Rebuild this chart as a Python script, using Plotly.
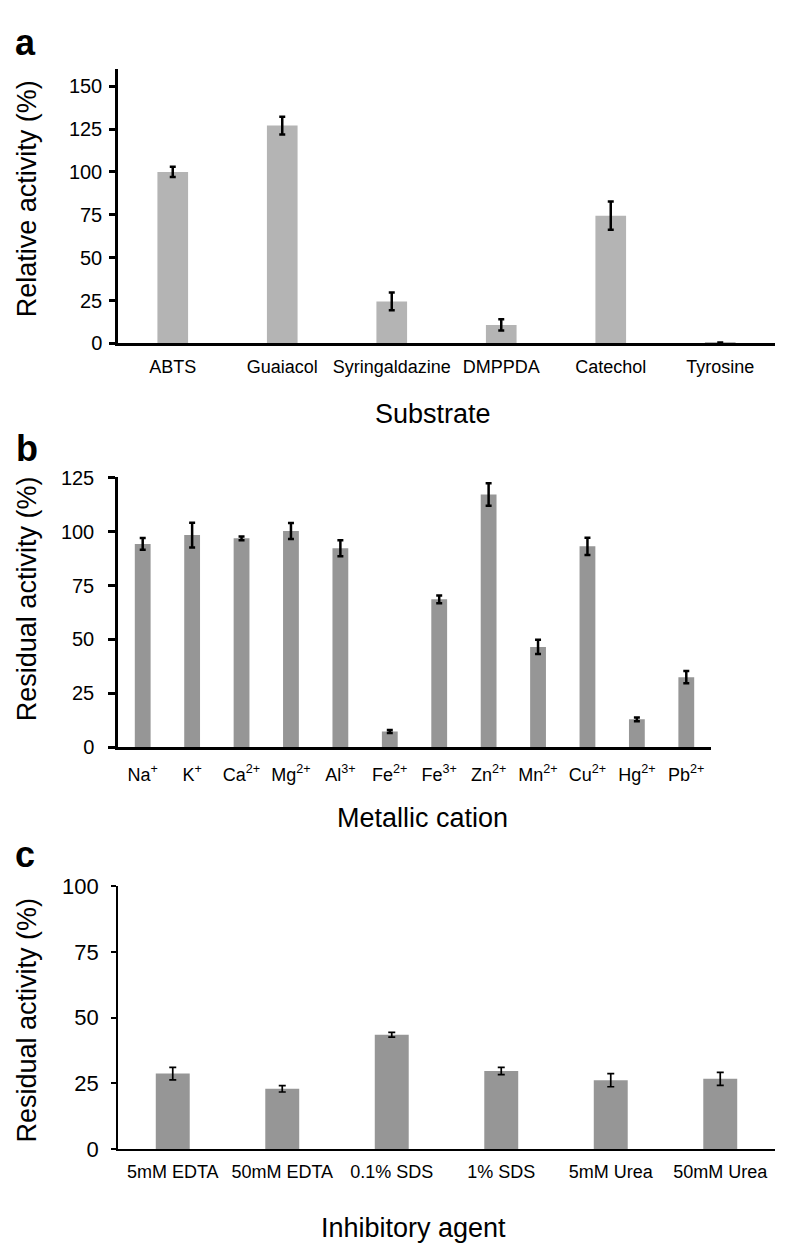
import plotly.graph_objects as go

W, H = 786, 1251

# ---------------- data ----------------
substrates = ["ABTS", "Guaiacol", "Syringaldazine", "DMPPDA", "Catechol", "Tyrosine"]
substrate_activity = [100.0, 127.0, 24.5, 10.8, 74.5, 0.3]
substrate_err = [3.0, 5.2, 5.2, 3.3, 8.2, 0.3]

cations = ["Na<sup>+</sup>", "K<sup>+</sup>", "Ca<sup>2+</sup>", "Mg<sup>2+</sup>",
           "Al<sup>3+</sup>", "Fe<sup>2+</sup>", "Fe<sup>3+</sup>", "Zn<sup>2+</sup>",
           "Mn<sup>2+</sup>", "Cu<sup>2+</sup>", "Hg<sup>2+</sup>", "Pb<sup>2+</sup>"]
cation_activity = [94.3, 98.4, 96.9, 100.3, 92.3, 7.3, 68.6, 117.2, 46.5, 93.2, 12.9, 32.5]
cation_err = [2.7, 5.7, 0.9, 3.7, 3.7, 0.7, 1.8, 5.2, 3.3, 4.0, 0.9, 2.8]

inhibitors = ["5mM EDTA", "50mM EDTA", "0.1% SDS", "1% SDS", "5mM Urea", "50mM Urea"]
inhibitor_activity = [28.7, 22.9, 43.5, 29.7, 26.2, 26.7]
inhibitor_err = [2.4, 1.2, 0.9, 1.4, 2.5, 2.5]

ticks_a = [0, 25, 50, 75, 100, 125, 150]
ticks_b = [0, 25, 50, 75, 100, 125]
ticks_c = [0, 25, 50, 75, 100]

# ---------------- helpers ----------------
FONT = "Liberation Sans, Arial, Helvetica, sans-serif"


def px_x(p):
    return p / W


def px_y(p):
    return 1 - p / H


fig = go.Figure()

fig.add_trace(go.Bar(
    x=substrates, y=substrate_activity, width=0.28,
    marker=dict(color="#b4b4b4", line=dict(width=0)),
    error_y=dict(type="data", array=substrate_err, visible=True,
                 color="black", thickness=2.5, width=3),
    xaxis="x", yaxis="y", showlegend=False))

fig.add_trace(go.Bar(
    x=cations, y=cation_activity, width=0.32,
    marker=dict(color="#969696", line=dict(width=0)),
    error_y=dict(type="data", array=cation_err, visible=True,
                 color="black", thickness=2.5, width=3),
    xaxis="x2", yaxis="y2", showlegend=False))

fig.add_trace(go.Bar(
    x=inhibitors, y=inhibitor_activity, width=0.31,
    marker=dict(color="#969696", line=dict(width=0)),
    error_y=dict(type="data", array=inhibitor_err, visible=True,
                 color="black", thickness=1.7, width=3.5),
    xaxis="x3", yaxis="y3", showlegend=False))


def xaxis_cfg(n, left, right, anchor, lw, fs, standoff):
    return dict(domain=[px_x(left), px_x(right)], anchor=anchor,
                type="category", range=[-0.5, n - 0.5],
                showline=True, linecolor="black", linewidth=lw,
                ticks="", showgrid=False, zeroline=False,
                tickfont=dict(family=FONT, size=fs, color="black"),
                ticklabelstandoff=standoff, fixedrange=True)


def yaxis_cfg(top_px, bottom_px, rng, tickvals, anchor, lw, fs, tl, standoff):
    return dict(domain=[px_y(bottom_px), px_y(top_px)], anchor=anchor,
                range=rng, tickvals=tickvals,
                showline=True, linecolor="black", linewidth=lw,
                ticks="outside", ticklen=tl, tickwidth=lw, tickcolor="black",
                showgrid=False, zeroline=False,
                tickfont=dict(family=FONT, size=fs, color="black"),
                ticklabelstandoff=standoff, fixedrange=True)


fig.update_layout(
    width=W, height=H,
    margin=dict(l=0, r=0, t=0, b=0),
    paper_bgcolor="white", plot_bgcolor="white",
    xaxis=xaxis_cfg(len(substrates), 110, 767, "y", 2.5, 18, 5),
    yaxis=yaxis_cfg(50, 330, [0, 160], ticks_a, "x", 2.5, 20, 6, 3),
    xaxis2=xaxis_cfg(len(cations), 110, 703, "y2", 2.5, 18, 9),
    yaxis2=yaxis_cfg(466, 742, [0, 125.5], ticks_b, "x2", 2.5, 20, 7, 10),
    xaxis3=xaxis_cfg(len(inhibitors), 110, 767, "y3", 1.7, 18, 6),
    yaxis3=yaxis_cfg(884, 1152, [0, 100], ticks_c, "x3", 1.7, 22, 5, 8),
    bargap=0.7,
)

annotations = []


def add_text(text, x, y, size, bold=False, angle=0):
    annotations.append(dict(
        text=f"<b>{text}</b>" if bold else text,
        x=px_x(x), y=px_y(y), xref="paper", yref="paper",
        xanchor="center", yanchor="middle", showarrow=False,
        textangle=angle, font=dict(family=FONT, size=size, color="black")))


# panel letters
add_text("a", 17, 23, 36, bold=True)
add_text("b", 19, 437, 36, bold=True)
add_text("c", 17, 852, 36, bold=True)

# axis titles
add_text("Relative activity (%)", 19, 183, 27, angle=-90)
add_text("Residual activity (%)", 19, 591, 27, angle=-90)
add_text("Residual activity (%)", 19, 1021, 27, angle=-90)
add_text("Substrate", 425, 402, 27)
add_text("Metallic cation", 414, 814, 27)
add_text("Inhibitory agent", 405, 1233, 27)

fig.update_layout(annotations=annotations)

fig.write_html("out.html")
